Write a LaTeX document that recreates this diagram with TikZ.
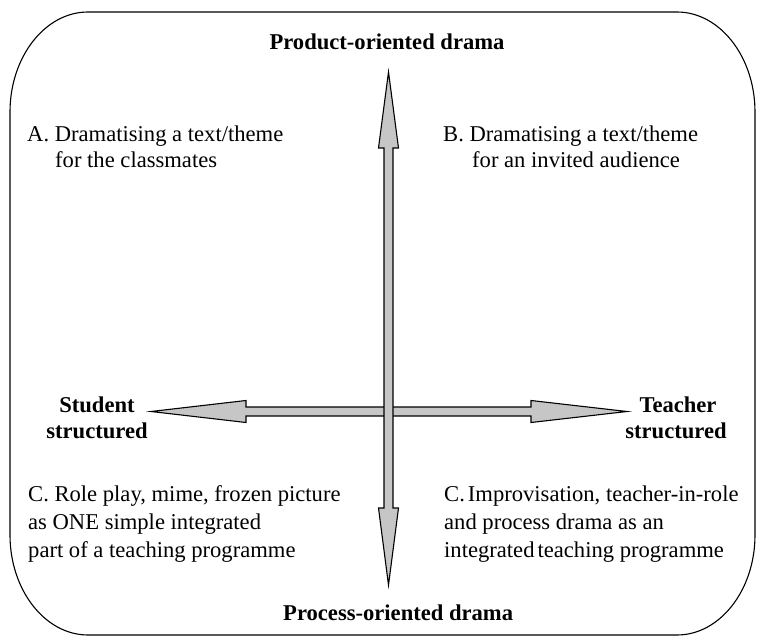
\documentclass[tikz,border=0pt]{standalone}
\usepackage{fontspec}
\setmainfont{Liberation Serif}
\definecolor{arrowfill}{RGB}{198,198,198}
\begin{document}
\begin{tikzpicture}[x=1pt,y=-1pt,
  frame/.style={draw=black,line width=1.1pt},
  fatarrow/.style={draw=black,fill=arrowfill,line width=1.1pt,line join=miter},
  bodytext/.style={inner sep=0pt,anchor=base west,font=\fontsize{22.6}{27}\selectfont},
  poletext/.style={inner sep=0pt,anchor=base,font=\fontsize{22.6}{27}\selectfont\bfseries},
]
\useasboundingbox (0,0) rectangle (758,639);
% frame
\draw[frame] (88,12) -- (677,12) .. controls (720,12) and (755,57) .. (755,112)
  -- (755,535) .. controls (755,590) and (720,635) .. (677,635)
  -- (88,635) .. controls (45,635) and (10,590) .. (10,535)
  -- (10,112) .. controls (10,57) and (45,12) .. (88,12) -- cycle;
% horizontal double arrow
\draw[fatarrow] (151,411.5) -- (246,400.5) -- (246,407) -- (531,407) -- (531,400.5)
  -- (627,411.5) -- (531,422.5) -- (531,416) -- (246,416) -- (246,422.5) -- cycle;
% vertical double arrow
\draw[fatarrow] (388.5,72) -- (398.5,148) -- (393,148) -- (393,508) -- (398.5,508)
  -- (388.5,585) -- (378.5,508) -- (384,508) -- (384,148) -- (378.5,148) -- cycle;
% pole labels
\node[poletext] (top) at (387,50) {Product-oriented drama};
\node[poletext,anchor=base west] (bottom) at (283,620) {Process-oriented drama};
\node[poletext] (left1) at (97,412) {Student};
\node[poletext] (left2) at (97,438) {structured};
\node[poletext] (right1) at (678,412) {Teacher};
\node[poletext] (right2) at (676,438) {structured};
% quadrant texts
\node[bodytext] (a1) at (27,142) {A. Dramatising a text/theme};
\node[bodytext] (a2) at (55,168) {for the classmates};
\node[bodytext] (b1) at (443,142) {B. Dramatising a text/theme};
\node[bodytext] (b2) at (472,168) {for an invited audience};
\node[bodytext] (c1) at (28,501) {C. Role play, mime, frozen picture};
\node[bodytext] (c2) at (28,529) {as ONE simple integrated};
\node[bodytext] (c3) at (28,557) {part of a teaching programme};
\node[bodytext] (d1) at (444,501) {C.\hspace{3pt}Improvisation, teacher-in-role};
\node[bodytext] (d2) at (444,529) {and process drama as an};
\node[bodytext] (d3) at (444,557) {integrated\hspace{3pt}teaching programme};
\end{tikzpicture}
\end{document}
